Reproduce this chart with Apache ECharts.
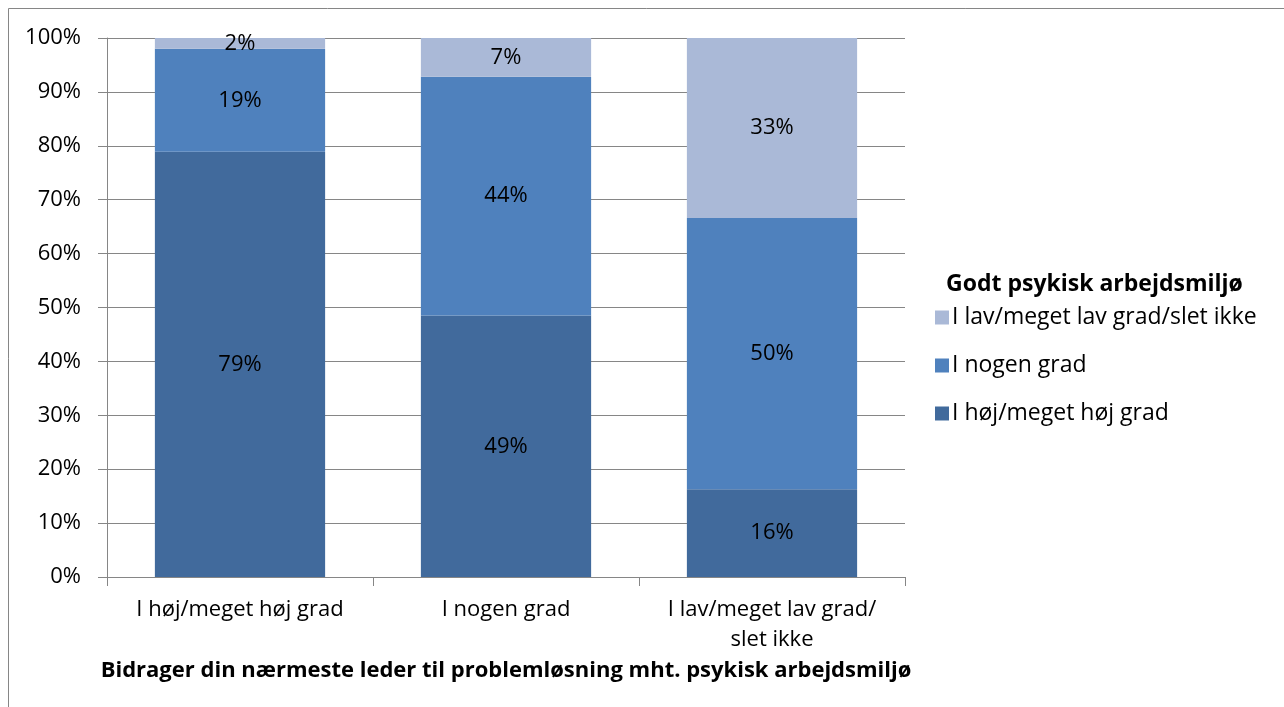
<!DOCTYPE html>
<html><head><meta charset="utf-8">
<script src="https://cdn.jsdelivr.net/npm/echarts@6/dist/echarts.min.js"></script>
<style>html,body{margin:0;padding:0;background:#fff}#c{width:1284px;height:707px}</style>
</head><body><div id="c"></div>
<script>
const categories = ['I høj/meget høj grad', 'I nogen grad', 'I lav/meget lav grad/\nslet ikke'];
const seriesNames = ['I høj/meget høj grad', 'I nogen grad', 'I lav/meget lav grad/slet ikke'];
const highValues = [78.9, 48.5, 16.3];
const someValues = [19.1, 44.3, 50.3];
const lowValues = [2.0, 7.2, 33.4];
const yTicks = [0, 10, 20, 30, 40, 50, 60, 70, 80, 90, 100];
const legendTitle = 'Godt psykisk arbejdsmiljø';
const xTitle = 'Bidrager din nærmeste leder til problemløsning mht. psykisk arbejdsmiljø';

const colors = ['#416A9C', '#4F81BD', '#AAB9D7'];
const font = 'Open Sans, Liberation Sans, sans-serif';
const chart = echarts.init(document.getElementById('c'), null, {renderer: 'canvas'});
function mk(name, data, color) {
  return {
    name, type: 'bar', stack: 'a', data, barWidth: '64%',
    itemStyle: {color},
    label: {show: true, position: 'inside', color: '#000', fontSize: 22, fontFamily: font,
      formatter: p => Math.round(p.value) + '%'},
    emphasis: {disabled: true}
  };
}
chart.setOption({
  animation: false,
  grid: {left: 107, right: 379, top: 38, bottom: 130, containLabel: false},
  xAxis: {
    type: 'category', data: categories,
    axisLine: {lineStyle: {color: '#868686', width: 1}},
    axisTick: {show: true, length: 9, lineStyle: {color: '#868686'}},
    axisLabel: {color: '#000', fontSize: 22, fontFamily: font, margin: 18, lineHeight: 30,
      interval: 0, hideOverlap: false},
    name: xTitle, nameLocation: 'middle', nameGap: 83,
    nameTextStyle: {color: '#000', fontSize: 22, fontWeight: 'bold', fontFamily: font}
  },
  yAxis: {
    type: 'value', min: 0, max: 100, interval: 10,
    axisLine: {show: true, lineStyle: {color: '#868686'}},
    axisTick: {show: true, length: 9, lineStyle: {color: '#868686'}},
    splitLine: {lineStyle: {color: '#868686', width: 1}},
    axisLabel: {color: '#000', fontSize: 22, fontFamily: font, margin: 26,
      formatter: v => yTicks.includes(v) ? v + '%' : ''}
  },
  legend: {
    orient: 'vertical', left: 930, top: 301, itemGap: 25,
    itemWidth: 14, itemHeight: 14, icon: 'rect',
    data: [seriesNames[2], seriesNames[1], seriesNames[0]],
    textStyle: {color: '#000', fontSize: 23, fontFamily: font, padding: [0, 0, 0, -2]}
  },
  graphic: [
    {type: 'rect', shape: {x: 8.5, y: 8.5, width: 1300, height: 720}, style: {fill: 'none', stroke: '#868686', lineWidth: 1}, silent: true},
    {type: 'text', left: 946, top: 273, style: {text: legendTitle, fill: '#000', font: 'bold 23px ' + font}}
  ],
  series: [
    mk(seriesNames[0], highValues, colors[0]),
    mk(seriesNames[1], someValues, colors[1]),
    mk(seriesNames[2], lowValues, colors[2])
  ]
});
</script></body></html>
